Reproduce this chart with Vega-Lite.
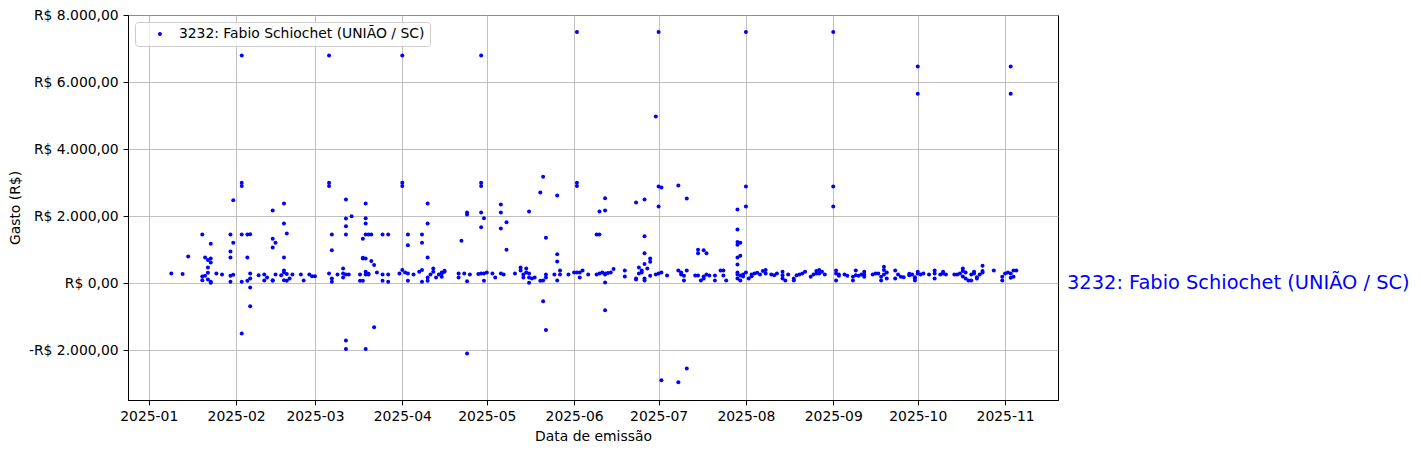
{
"$schema": "https://vega.github.io/schema/vega-lite/v6.json",
"width": 930, "height": 385,
"autosize": {"type": "none"},
"padding": {"left": 128, "top": 15, "right": 363, "bottom": 53},
"background": "white",
"config": {
  "font": "DejaVu Sans",
  "view": {"stroke": "black", "strokeWidth": 1},
  "axis": {"zindex": 1, "gridColor": "#b0b0b0", "gridWidth": 0.8, "domainColor": "black", "tickColor": "black", "tickSize": 4.9, "labelPadding": 4.9, "labelFontSize": 13.9, "labelColor": "black", "titleFontSize": 13.9, "titleFontWeight": "normal", "titleColor": "black", "titlePadding": 5.6}
},
"data": {"values": [
{"d":"2025-02-03","v":6800},{"d":"2025-02-03","v":3000},{"d":"2025-02-03","v":2900},{"d":"2025-01-31","v":2480},{"d":"2025-01-09","v":290},{"d":"2025-01-13","v":270},{"d":"2025-01-15","v":800},{"d":"2025-01-20","v":1450},{"d":"2025-01-23","v":1180},{"d":"2025-01-21","v":770},{"d":"2025-01-23","v":740},{"d":"2025-01-23","v":620},{"d":"2025-01-22","v":690},{"d":"2025-01-22","v":470},{"d":"2025-01-20","v":200},{"d":"2025-01-20","v":90},{"d":"2025-01-21","v":220},{"d":"2025-01-22","v":110},{"d":"2025-01-22","v":310},{"d":"2025-01-23","v":40},{"d":"2025-01-23","v":10},{"d":"2025-01-25","v":290},{"d":"2025-01-27","v":260},{"d":"2025-01-30","v":1450},{"d":"2025-01-31","v":1210},{"d":"2025-01-30","v":945},{"d":"2025-01-30","v":770},{"d":"2025-01-30","v":220},{"d":"2025-01-31","v":250},{"d":"2025-01-30","v":40},{"d":"2025-02-03","v":1450},{"d":"2025-02-05","v":1450},{"d":"2025-02-06","v":1460},{"d":"2025-02-05","v":770},{"d":"2025-02-03","v":40},{"d":"2025-02-05","v":70},{"d":"2025-02-06","v":290},{"d":"2025-02-06","v":140},{"d":"2025-02-06","v":-130},{"d":"2025-02-06","v":-690},{"d":"2025-02-03","v":-1500},{"d":"2025-02-09","v":240},{"d":"2025-02-11","v":260},{"d":"2025-02-11","v":80},{"d":"2025-02-12","v":170},{"d":"2025-02-14","v":90},{"d":"2025-02-14","v":70},{"d":"2025-02-15","v":260},{"d":"2025-02-17","v":240},{"d":"2025-02-18","v":320},{"d":"2025-02-18","v":380},{"d":"2025-02-19","v":70},{"d":"2025-02-19","v":270},{"d":"2025-02-14","v":2170},{"d":"2025-02-18","v":2380},{"d":"2025-02-18","v":1780},{"d":"2025-02-19","v":1480},{"d":"2025-02-14","v":1330},{"d":"2025-02-15","v":1210},{"d":"2025-02-14","v":1065},{"d":"2025-02-18","v":770},
{"d":"2025-02-18","v":90},{"d":"2025-02-20","v":140},{"d":"2025-02-21","v":260},{"d":"2025-02-24","v":260},{"d":"2025-02-25","v":80},{"d":"2025-02-27","v":260},{"d":"2025-02-28","v":210},{"d":"2025-03-01","v":210},
{"d":"2025-03-06","v":6800},{"d":"2025-03-06","v":3000},{"d":"2025-03-06","v":2900},{"d":"2025-03-07","v":1450},{"d":"2025-03-07","v":985},{"d":"2025-03-07","v":140},{"d":"2025-03-07","v":40},{"d":"2025-03-06","v":290},
{"d":"2025-03-12","v":2500},{"d":"2025-03-12","v":1930},{"d":"2025-03-14","v":2000},{"d":"2025-03-12","v":1700},{"d":"2025-03-12","v":1450},{"d":"2025-03-12","v":-1710},{"d":"2025-03-12","v":-1970},
{"d":"2025-03-19","v":2380},{"d":"2025-03-19","v":1940},{"d":"2025-03-19","v":1780},{"d":"2025-03-18","v":1330},{"d":"2025-03-19","v":1450},{"d":"2025-03-20","v":1450},{"d":"2025-03-21","v":1450},{"d":"2025-03-18","v":740},{"d":"2025-03-18","v":760},{"d":"2025-03-19","v":740},{"d":"2025-03-21","v":660},{"d":"2025-03-22","v":540},{"d":"2025-03-19","v":-1970},{"d":"2025-03-22","v":-1320},
{"d":"2025-03-25","v":1450},{"d":"2025-03-27","v":1450},{"d":"2025-04-03","v":1450},{"d":"2025-04-03","v":1130},{"d":"2025-04-08","v":1450},{"d":"2025-04-08","v":1210},{"d":"2025-04-10","v":2380},{"d":"2025-04-10","v":1780},{"d":"2025-04-10","v":770},
{"d":"2025-04-01","v":6800},{"d":"2025-04-01","v":3000},{"d":"2025-04-01","v":2900},
{"d":"2025-03-09","v":260},{"d":"2025-03-11","v":440},{"d":"2025-03-11","v":290},{"d":"2025-03-12","v":260},{"d":"2025-03-11","v":170},{"d":"2025-03-13","v":260},{"d":"2025-03-17","v":260},{"d":"2025-03-18","v":70},{"d":"2025-03-17","v":70},{"d":"2025-03-19","v":260},{"d":"2025-03-20","v":260},{"d":"2025-03-19","v":340},{"d":"2025-03-20","v":280},{"d":"2025-03-23","v":320},{"d":"2025-03-25","v":260},{"d":"2025-03-25","v":70},{"d":"2025-03-27","v":260},{"d":"2025-03-27","v":40},{"d":"2025-03-31","v":290},{"d":"2025-04-01","v":390},{"d":"2025-04-02","v":320},{"d":"2025-04-03","v":290},{"d":"2025-04-03","v":70},{"d":"2025-04-05","v":260},{"d":"2025-04-07","v":340},{"d":"2025-04-08","v":390},{"d":"2025-04-08","v":40},{"d":"2025-04-10","v":70},{"d":"2025-04-10","v":170},{"d":"2025-04-11","v":260},{"d":"2025-04-12","v":340},{"d":"2025-04-12","v":440},{"d":"2025-04-13","v":170},{"d":"2025-04-14","v":260},{"d":"2025-04-15","v":320},{"d":"2025-04-16","v":370},
{"d":"2025-04-29","v":6800},{"d":"2025-06-02","v":7500},{"d":"2025-04-29","v":3000},{"d":"2025-04-29","v":2900},{"d":"2025-06-02","v":3000},{"d":"2025-06-02","v":2900},{"d":"2025-04-24","v":2110},{"d":"2025-04-24","v":2050},{"d":"2025-04-22","v":1270},{"d":"2025-04-24","v":60},{"d":"2025-04-24","v":-2100},{"d":"2025-04-29","v":2110},{"d":"2025-04-30","v":1940},{"d":"2025-04-29","v":1670},{"d":"2025-04-30","v":70},{"d":"2025-05-06","v":2350},{"d":"2025-05-06","v":2110},{"d":"2025-05-08","v":1820},{"d":"2025-05-06","v":1630},{"d":"2025-05-08","v":1000},{"d":"2025-05-16","v":2140},{"d":"2025-05-20","v":2710},{"d":"2025-05-21","v":3180},{"d":"2025-05-22","v":1360},{"d":"2025-05-21","v":-540},{"d":"2025-05-22","v":-1400},{"d":"2025-05-26","v":2620},{"d":"2025-05-26","v":860},{"d":"2025-05-26","v":650},{"d":"2025-05-27","v":380},{"d":"2025-05-27","v":260},{"d":"2025-05-26","v":80},
{"d":"2025-04-15","v":290},{"d":"2025-04-16","v":340},{"d":"2025-04-15","v":190},{"d":"2025-04-21","v":170},{"d":"2025-04-21","v":290},{"d":"2025-04-23","v":290},{"d":"2025-04-25","v":260},{"d":"2025-04-29","v":290},{"d":"2025-04-28","v":270},{"d":"2025-04-30","v":290},{"d":"2025-05-01","v":320},{"d":"2025-05-03","v":290},{"d":"2025-05-04","v":170},{"d":"2025-05-06","v":290},{"d":"2025-05-07","v":260},{"d":"2025-05-11","v":290},{"d":"2025-05-13","v":470},{"d":"2025-05-13","v":380},{"d":"2025-05-14","v":260},{"d":"2025-05-14","v":170},{"d":"2025-05-15","v":440},{"d":"2025-05-15","v":320},{"d":"2025-05-16","v":290},{"d":"2025-05-16","v":170},{"d":"2025-05-17","v":140},{"d":"2025-05-18","v":170},{"d":"2025-05-16","v":10},{"d":"2025-05-20","v":70},{"d":"2025-05-21","v":80},{"d":"2025-05-22","v":260},{"d":"2025-05-22","v":170},{"d":"2025-05-25","v":260},{"d":"2025-05-30","v":260},{"d":"2025-06-01","v":320},{"d":"2025-06-02","v":320},{"d":"2025-06-03","v":170},{"d":"2025-06-03","v":320},{"d":"2025-06-04","v":380},{"d":"2025-06-06","v":260},{"d":"2025-06-09","v":260},
{"d":"2025-07-01","v":7500},{"d":"2025-08-01","v":7500},{"d":"2025-06-30","v":4980},{"d":"2025-07-01","v":2890},{"d":"2025-07-02","v":2860},{"d":"2025-07-01","v":2290},{"d":"2025-08-01","v":2890},{"d":"2025-08-01","v":2290},{"d":"2025-07-08","v":2920},{"d":"2025-07-11","v":2530},{"d":"2025-07-08","v":-2960},{"d":"2025-07-11","v":-2550},{"d":"2025-07-02","v":-2900},{"d":"2025-06-10","v":2140},{"d":"2025-06-12","v":2540},{"d":"2025-06-12","v":2170},{"d":"2025-06-09","v":1450},{"d":"2025-06-10","v":1450},{"d":"2025-06-12","v":-810},{"d":"2025-06-23","v":2410},{"d":"2025-06-26","v":2500},{"d":"2025-06-26","v":1400},{"d":"2025-06-26","v":890},{"d":"2025-06-28","v":740},{"d":"2025-06-28","v":640},{"d":"2025-06-26","v":570},{"d":"2025-07-15","v":1000},{"d":"2025-07-17","v":985},{"d":"2025-07-18","v":890},{"d":"2025-07-15","v":890},{"d":"2025-07-29","v":2200},{"d":"2025-07-29","v":1600},{"d":"2025-07-29","v":1230},{"d":"2025-07-30","v":1210},{"d":"2025-07-29","v":1150},{"d":"2025-07-30","v":820},{"d":"2025-07-29","v":770},{"d":"2025-07-29","v":560},
{"d":"2025-06-10","v":290},{"d":"2025-06-11","v":320},{"d":"2025-06-12","v":260},{"d":"2025-06-12","v":290},{"d":"2025-06-13","v":300},{"d":"2025-06-14","v":320},{"d":"2025-06-15","v":420},{"d":"2025-06-12","v":20},{"d":"2025-06-19","v":380},{"d":"2025-06-19","v":200},{"d":"2025-06-23","v":140},{"d":"2025-06-23","v":110},{"d":"2025-06-24","v":470},{"d":"2025-06-24","v":290},{"d":"2025-06-25","v":320},{"d":"2025-06-25","v":380},{"d":"2025-06-26","v":140},{"d":"2025-06-26","v":80},{"d":"2025-06-27","v":440},{"d":"2025-06-28","v":220},{"d":"2025-06-30","v":260},{"d":"2025-07-01","v":290},{"d":"2025-07-02","v":320},{"d":"2025-07-04","v":230},{"d":"2025-07-08","v":380},{"d":"2025-07-09","v":260},{"d":"2025-07-09","v":320},{"d":"2025-07-10","v":220},{"d":"2025-07-10","v":80},{"d":"2025-07-11","v":380},{"d":"2025-07-14","v":230},{"d":"2025-07-15","v":230},{"d":"2025-07-16","v":80},{"d":"2025-07-17","v":200},{"d":"2025-07-17","v":140},{"d":"2025-07-18","v":260},{"d":"2025-07-19","v":230},{"d":"2025-07-21","v":230},{"d":"2025-07-21","v":80},{"d":"2025-07-23","v":380},{"d":"2025-07-24","v":380},{"d":"2025-07-24","v":230},{"d":"2025-07-25","v":80},{"d":"2025-07-29","v":260},{"d":"2025-07-29","v":140},{"d":"2025-07-29","v":320},{"d":"2025-07-30","v":80},{"d":"2025-07-30","v":230},{"d":"2025-07-31","v":260},{"d":"2025-07-31","v":200},{"d":"2025-08-01","v":320},{"d":"2025-08-02","v":140},{"d":"2025-08-03","v":260},
{"d":"2025-09-01","v":7500},{"d":"2025-09-01","v":2890},{"d":"2025-09-01","v":2290},
{"d":"2025-08-03","v":210},{"d":"2025-08-04","v":290},{"d":"2025-08-05","v":310},{"d":"2025-08-06","v":260},{"d":"2025-08-07","v":360},{"d":"2025-08-08","v":390},{"d":"2025-08-08","v":290},{"d":"2025-08-10","v":260},{"d":"2025-08-11","v":240},{"d":"2025-08-12","v":290},{"d":"2025-08-14","v":340},{"d":"2025-08-14","v":240},{"d":"2025-08-14","v":140},{"d":"2025-08-15","v":80},{"d":"2025-08-16","v":260},{"d":"2025-08-18","v":140},{"d":"2025-08-18","v":80},{"d":"2025-08-19","v":240},{"d":"2025-08-20","v":260},{"d":"2025-08-21","v":290},{"d":"2025-08-22","v":340},{"d":"2025-08-24","v":190},{"d":"2025-08-25","v":260},{"d":"2025-08-26","v":290},{"d":"2025-08-26","v":360},{"d":"2025-08-27","v":390},{"d":"2025-08-27","v":290},{"d":"2025-08-28","v":340},{"d":"2025-08-29","v":260},{"d":"2025-09-02","v":380},{"d":"2025-09-02","v":290},{"d":"2025-09-02","v":80},{"d":"2025-09-03","v":220},{"d":"2025-09-03","v":260},{"d":"2025-09-05","v":260},{"d":"2025-09-06","v":220},{"d":"2025-09-08","v":80},{"d":"2025-09-08","v":190},{"d":"2025-09-09","v":380},{"d":"2025-09-09","v":240},{"d":"2025-09-10","v":220},{"d":"2025-09-11","v":260},{"d":"2025-09-12","v":190},{"d":"2025-09-12","v":340},{"d":"2025-09-12","v":260},{"d":"2025-09-15","v":260},{"d":"2025-09-16","v":290},{"d":"2025-09-17","v":290},{"d":"2025-09-18","v":80},{"d":"2025-09-18","v":190},{"d":"2025-09-19","v":390},{"d":"2025-09-19","v":490},{"d":"2025-09-19","v":260},{"d":"2025-09-20","v":140},{"d":"2025-09-20","v":320},{"d":"2025-09-23","v":380},{"d":"2025-09-23","v":140},{"d":"2025-09-24","v":260},{"d":"2025-09-25","v":190},{"d":"2025-09-26","v":180},{"d":"2025-09-28","v":280},
{"d":"2025-10-01","v":6470},{"d":"2025-10-01","v":5660},{"d":"2025-11-03","v":6470},{"d":"2025-11-03","v":5660},
{"d":"2025-09-28","v":240},{"d":"2025-09-29","v":260},{"d":"2025-09-30","v":180},{"d":"2025-09-30","v":140},{"d":"2025-10-01","v":290},{"d":"2025-09-30","v":80},{"d":"2025-10-01","v":340},{"d":"2025-10-02","v":260},{"d":"2025-10-03","v":290},{"d":"2025-10-05","v":260},{"d":"2025-10-07","v":380},{"d":"2025-10-07","v":140},{"d":"2025-10-07","v":290},{"d":"2025-10-09","v":260},{"d":"2025-10-10","v":290},{"d":"2025-10-10","v":340},{"d":"2025-10-11","v":260},{"d":"2025-10-14","v":260},{"d":"2025-10-15","v":260},{"d":"2025-10-16","v":290},{"d":"2025-10-17","v":360},{"d":"2025-10-17","v":440},{"d":"2025-10-17","v":200},{"d":"2025-10-18","v":320},{"d":"2025-10-18","v":140},{"d":"2025-10-19","v":80},{"d":"2025-10-20","v":80},{"d":"2025-10-20","v":260},{"d":"2025-10-21","v":290},{"d":"2025-10-21","v":340},{"d":"2025-10-22","v":140},{"d":"2025-10-22","v":180},{"d":"2025-10-23","v":260},{"d":"2025-10-24","v":320},{"d":"2025-10-24","v":520},{"d":"2025-10-24","v":360},{"d":"2025-10-28","v":380},{"d":"2025-10-31","v":80},{"d":"2025-10-31","v":190},{"d":"2025-11-01","v":290},{"d":"2025-11-02","v":320},{"d":"2025-11-03","v":290},{"d":"2025-11-04","v":380},{"d":"2025-11-04","v":190},{"d":"2025-11-05","v":380},{"d":"2025-11-03","v":160}
]},
"layer": [
  {
    "mark": {"type": "circle", "size": 16, "opacity": 1},
    "encoding": {
      "x": {"field": "d", "type": "temporal",
        "scale": {"type": "utc", "nice": false, "domain": [{"year": 2024, "month": 12, "date": 24, "hours": 15, "utc": true}, {"year": 2025, "month": 11, "date": 19, "hours": 19, "utc": true}]},
        "axis": {"title": "Data de emissão", "format": "%Y-%m", "tickCount": {"interval": "month", "step": 1}, "labelFlush": false, "labelOverlap": false}},
      "y": {"field": "v", "type": "quantitative",
        "scale": {"domain": [-3490, 8010], "nice": false, "zero": false},
        "axis": {"title": "Gasto (R$)", "values": [-2000, 0, 2000, 4000, 6000, 8000],
          "labelExpr": "(datum.value < 0 ? '-R$ ' : 'R$ ') + replace(replace(replace(format(abs(datum.value), ',.2f'), ',', '#'), '.', ','), '#', '.')"}},
      "color": {"datum": "3232: Fabio Schiochet (UNIÃO / SC)", "type": "nominal",
        "scale": {"range": ["#0000ff"]},
        "legend": {"title": null, "orient": "top-left", "offset": 7, "padding": 5, "fillColor": "rgba(255,255,255,0.8)", "strokeColor": "#cccccc", "cornerRadius": 3, "labelFontSize": 13.9, "labelColor": "black", "labelLimit": 400, "symbolType": "circle", "symbolSize": 16, "symbolOffset": 13, "labelOffset": 12, "symbolFillColor": "#0000ff", "symbolStrokeWidth": 0}}
    }
  },
  {
    "data": {"values": [{"t": "3232: Fabio Schiochet (UNIÃO / SC)"}]},
    "mark": {"type": "text", "align": "left", "baseline": "middle", "fontSize": 19.4, "color": "#0000ff"},
    "encoding": {
      "x": {"datum": {"year": 2025, "month": 11, "date": 23, "utc": true}, "type": "temporal"},
      "y": {"datum": 0, "type": "quantitative"},
      "text": {"field": "t"}
    }
  }
]
}
